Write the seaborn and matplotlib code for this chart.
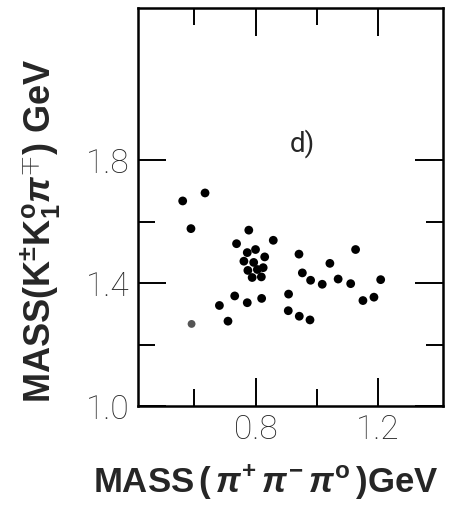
import seaborn as sns
import matplotlib.pyplot as plt
from matplotlib.ticker import FixedLocator
import pandas as pd

# event masses (GeV)
mass_3pi = [0.562, 0.635, 0.589, 0.778, 0.738, 0.858, 0.773, 0.800, 0.830,
            0.762, 0.794, 0.775, 0.806, 0.825, 0.789, 0.819, 0.942, 1.127,
            1.043, 0.953, 0.980, 1.018, 1.070, 1.111, 1.209, 1.151, 1.187,
            0.908, 0.907, 0.943, 0.978, 0.732, 0.682, 0.773, 0.820, 0.710]
mass_kkpi = [1.667, 1.693, 1.577, 1.572, 1.528, 1.539, 1.499, 1.509, 1.485,
             1.471, 1.467, 1.441, 1.444, 1.450, 1.418, 1.420, 1.494, 1.509,
             1.464, 1.433, 1.409, 1.396, 1.413, 1.398, 1.411, 1.343, 1.354,
             1.364, 1.310, 1.292, 1.280, 1.358, 1.327, 1.336, 1.350, 1.276]
# one faint (grey) event
faint_3pi = [0.591]
faint_kkpi = [1.267]

x_major = [0.8, 1.2]
x_minor = [0.6, 1.0]
y_major = [1.0, 1.4, 1.8]
y_minor = [1.2, 1.6]

df = pd.DataFrame({'m3pi': mass_3pi, 'mkkpi': mass_kkpi})
df_faint = pd.DataFrame({'m3pi': faint_3pi, 'mkkpi': faint_kkpi})

sns.set_style('white')
plt.rcParams['font.family'] = ['Liberation Sans', 'DejaVu Sans']
plt.rcParams['mathtext.fontset'] = 'custom'
plt.rcParams['mathtext.rm'] = 'Liberation Sans:bold'
plt.rcParams['mathtext.bf'] = 'Liberation Sans:bold'
plt.rcParams['mathtext.it'] = 'Liberation Sans:bold:italic'

fig = plt.figure(figsize=(4.54, 5.18), dpi=100)
ax = fig.add_axes([0.304, 0.2162, 0.672, 0.768])

sns.scatterplot(data=df, x='m3pi', y='mkkpi', ax=ax, color='black',
                s=40, edgecolor='none', legend=False)
sns.scatterplot(data=df_faint, x='m3pi', y='mkkpi', ax=ax, color='#555555',
                s=32, edgecolor='none', legend=False)

ax.set_xlim(0.416, 1.413)
ax.set_ylim(1.0, 2.294)

for s in ax.spines.values():
    s.set_visible(True)
    s.set_color('black')
    s.set_linewidth(1.8)

ax.xaxis.set_major_locator(FixedLocator(x_major))
ax.xaxis.set_minor_locator(FixedLocator(x_minor))
ax.yaxis.set_major_locator(FixedLocator(y_major))
ax.yaxis.set_minor_locator(FixedLocator(y_minor))
ax.set_xticklabels(['0.8', '1.2'])
ax.set_yticklabels(['1.0', '1.4', '1.8'])

ax.tick_params(which='both', direction='in', top=True, right=True,
               bottom=True, left=True, width=1.4, color='black')
ax.tick_params(which='major', length=20, labelsize=24, pad=6)
ax.tick_params(which='minor', length=12)
for lab in ax.get_xticklabels() + ax.get_yticklabels():
    lab.set_fontfamily('Roboto')
    lab.set_fontweight('light')

ax.text(0.954, 1.855, 'd)', fontsize=20, ha='center', va='center',
        family='Roboto')

ax.set_xlabel(r'MASS$\,(\,\pi^{+}\,\pi^{-}\,\pi^{\mathrm{o}}\,)$GeV',
              fontsize=25, fontweight='bold', va='center', ha='center')
ax.xaxis.set_label_coords(0.418, -0.191)
ax.set_ylabel(r'MASS$(\mathrm{K}^{\pm}\mathrm{K}^{\mathrm{o}}_{1}\pi^{\mp})$ GeV',
              fontsize=26, fontweight='bold', va='center', ha='center')
ax.yaxis.set_label_coords(-0.318, 0.44)

fig.savefig('out.png', dpi=100)
